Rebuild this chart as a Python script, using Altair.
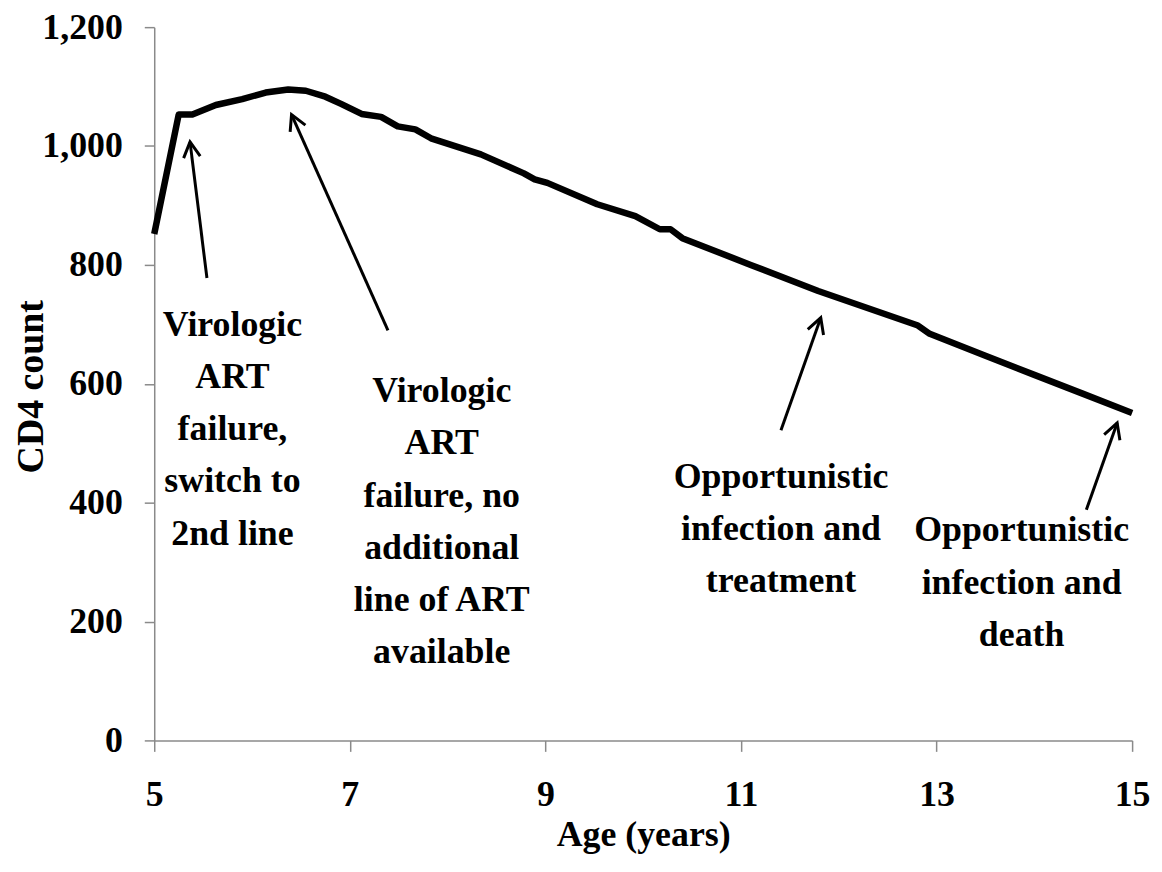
import math
import altair as alt
import pandas as pd

# ---- data ----
age = [5.0, 5.25, 5.39, 5.63, 5.9, 6.14, 6.37, 6.55, 6.75, 6.91, 7.12, 7.32, 7.49,
       7.67, 7.83, 8.34, 8.78, 8.89, 9.02, 9.53, 9.92, 10.17, 10.28, 10.4, 11.1,
       11.79, 12.81, 12.93, 13.5, 14.0, 14.5, 15.0]
cd4 = [852, 1053, 1053, 1069, 1079, 1090, 1095, 1093, 1083, 1071, 1054, 1049, 1033,
       1028, 1013, 986, 954, 944, 938, 902, 882, 860, 860, 845, 800,
       756, 698, 684, 647, 615, 583, 551]

x_ticks = [5, 7, 9, 11, 13, 15]
y_ticks = [0, 200, 400, 600, 800, 1000, 1200]

ann_text = [
    "Virologic\nART\nfailure,\nswitch to\n2nd line",
    "Virologic\nART\nfailure, no\nadditional\nline of ART\navailable",
    "Opportunistic\ninfection and\ntreatment",
    "Opportunistic\ninfection and\ndeath",
]
ann_x = [5.80, 7.94, 11.41, 13.87]
ann_y = [681, 569, 425, 335]

arrow_tail_x = [5.539, 7.39, 11.409, 14.532]
arrow_tail_y = [778, 690, 522, 388]
arrow_head_x = [5.366, 6.404, 11.816, 14.847]
arrow_head_y = [1007, 1053, 711, 534]

W, H = 983, 717
X_DOM = [5, 15]
Y_DOM = [0, 1200]

# ---- tables ----
line_df = pd.DataFrame({"age": age, "cd4": cd4})
ann_df = pd.DataFrame({"x": ann_x, "y": ann_y, "label": ann_text})

kx = W / (X_DOM[1] - X_DOM[0])
ky = H / (Y_DOM[1] - Y_DOM[0])
angles = []
for tx, ty, hx, hy in zip(arrow_tail_x, arrow_tail_y, arrow_head_x, arrow_head_y):
    dx = (hx - tx) * kx
    dy_up = (hy - ty) * ky
    angles.append(math.degrees(math.atan2(dx, dy_up)) % 360)
arr_df = pd.DataFrame({"tx": arrow_tail_x, "ty": arrow_tail_y,
                       "hx": arrow_head_x, "hy": arrow_head_y, "ang": angles})

FONT = "Liberation Serif"
xs = alt.Scale(domain=X_DOM, nice=False, zero=False)
ys = alt.Scale(domain=Y_DOM, nice=False)
xa = alt.Axis(values=x_ticks, format="d", grid=False, tickSize=11, labelPadding=26,
              labelFlush=False, labelOverlap=False, title="Age (years)",
              titleY=106, titleBaseline="alphabetic")
ya = alt.Axis(values=y_ticks, format=",d", grid=False, tickSize=10, labelPadding=22,
              labelOverlap=False, title="CD4 count", titleAngle=270,
              titleFontSize=38,
              titleX=-112, titleY=361, titleAlign="center", titleBaseline="alphabetic")


def X(f):
    return alt.X(f, type="quantitative", scale=xs, axis=xa)


def Y(f):
    return alt.Y(f, type="quantitative", scale=ys, axis=ya)


line = alt.Chart(line_df).mark_line(color="black", strokeWidth=6.5, strokeJoin="round").encode(
    x=X("age"), y=Y("cd4"))

shafts = alt.Chart(arr_df).mark_rule(color="black", strokeWidth=3).encode(
    x=X("tx"), y=Y("ty"), x2=alt.X2("hx"), y2=alt.Y2("hy"))

heads = alt.Chart(arr_df).mark_point(
    shape="M -0.6 1.1 L 0 0 L 0.6 1.1", filled=False, size=784,
    strokeWidth=3, color="black", opacity=1).encode(
    x=X("hx"), y=Y("hy"), angle=alt.Angle("ang:Q", scale=None))

texts = alt.Chart(ann_df).mark_text(
    font=FONT, fontSize=36, fontWeight="bold", color="black", align="center",
    baseline="alphabetic", lineBreak="\n", lineHeight=52.5).encode(
    x=X("x"), y=Y("y"), text="label:N")

chart = alt.layer(line, shafts, heads, texts).properties(
    width=W, height=H,
    padding={"left": 147, "top": 17, "right": 22, "bottom": 125},
    autosize=alt.AutoSizeParams(type="none"),
).configure_view(stroke=None).configure_axis(
    labelFont=FONT, labelFontSize=36, labelFontWeight="bold", labelColor="black",
    titleFont=FONT, titleFontSize=36, titleFontWeight="bold", titleColor="black",
    domainColor="#8a8a8a", tickColor="#8a8a8a", domainWidth=1.5, tickWidth=1.5,
)

chart.save("out.html", embed_options={"renderer": "svg", "actions": False})
